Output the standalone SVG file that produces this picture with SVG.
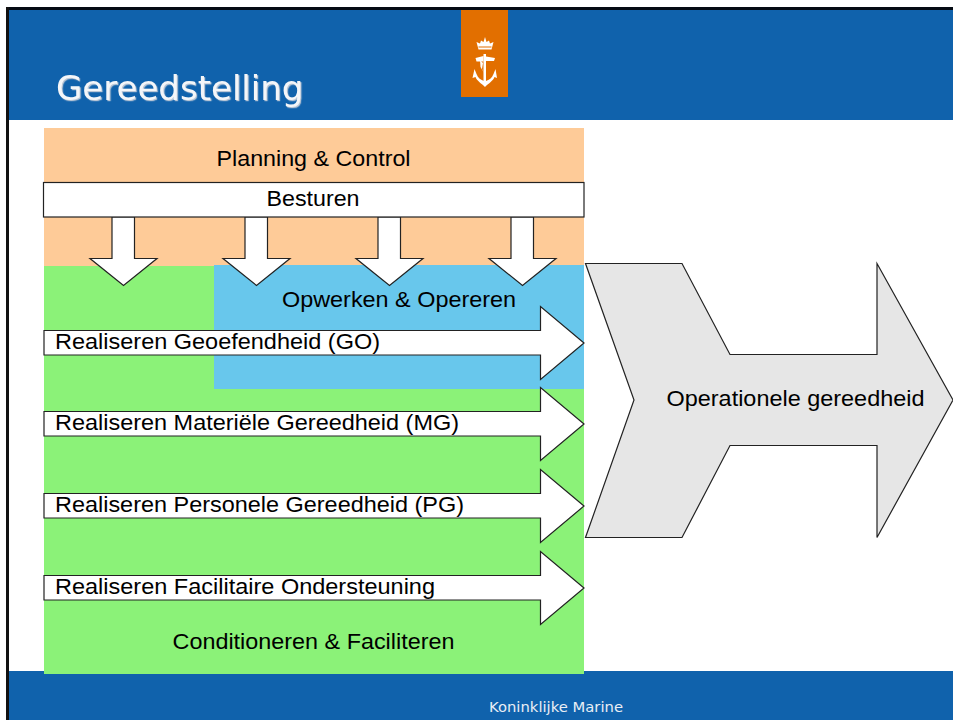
<svg xmlns="http://www.w3.org/2000/svg" width="953" height="720" viewBox="0 0 953 720">
<style>
.s{stroke:#222;stroke-width:1.200;fill:#fff}
.t{font-family:"Liberation Sans",Arial,sans-serif;font-size:21.5px;fill:#000}
.d{font-family:"DejaVu Sans",Verdana,sans-serif}
</style>
<defs>
<path id="ra" d="M44 11.500H540.500V-12.500L584 24L540.500 60.500V36H44Z"/>
<path id="da" d="M112 217H134.500V258.500H157L123.500 285.500L90 258.500H112Z"/>
<filter id="sh" x="-5%" y="-20%" width="110%" height="140%"><feDropShadow dx="1.200" dy="1.200" stdDeviation=".4" flood-color="#b9c6d6"/></filter>
</defs>
<rect width="953" height="720" fill="#fff"/>
<g id="header">
<rect x="6" y="7" width="947" height="3" fill="#050b14"/>
<rect x="6" y="7" width="3" height="713" fill="#111"/>
<rect x="9" y="10" width="944" height="110" fill="#1062ac"/>
<rect x="461" y="10" width="47" height="87" fill="#e26f00"/>
<g id="emblem" fill="#fff" stroke="none">
<path d="M478.500 49.500H491.500L493.500 42L490 43.500L489 40.500L486.500 42L485 37L483.500 42L481 40.500L480 43.500L476.500 42Z"/>
<rect x="478.500" y="46.500" width="13" height="1" fill="#e26f00"/>
<rect x="483.500" y="54" width="2.500" height="28"/>
<path d="M475.500 58L483.500 56V61.500L476.500 61.500ZM486 56.500L495 58L494 61L486 61Z"/>
<path d="M480 60L483 63L482 69L484 73L480.500 67Z"/>
<path d="M472.500 78L474.500 69L476.500 74C478 78 481 80 484 81H486C489 80 492 78 493.500 74L495.500 69L497 78L494.500 77C493 81 489 83 485 87C481 83 477 81 475.500 77Z"/>
</g>
<text class="d" x="56" y="100" font-size="34" fill="#f4f6f9" filter="url(#sh)">Gereedstelling</text>
</g>
<g id="footer">
<rect x="9" y="671" width="944" height="49" fill="#1062ac"/>
<text class="d" x="489" y="712" font-size="14" fill="#e9eef5" textLength="134" lengthAdjust="spacingAndGlyphs">Koninklijke Marine</text>
</g>
<g id="planning-control">
<rect x="44" y="128" width="540" height="138" fill="#fecb98"/>
<text class="t" x="216.500" y="165.500" textLength="194" lengthAdjust="spacingAndGlyphs">Planning &amp; Control</text>
</g>
<g id="conditioneren-faciliteren">
<rect x="44" y="266" width="540" height="408" fill="#8bf278"/>
<text class="t" x="172.500" y="649" textLength="282" lengthAdjust="spacingAndGlyphs">Conditioneren &amp; Faciliteren</text>
</g>
<g id="opwerken-opereren">
<rect x="214" y="265" width="370" height="124" fill="#68c7ec"/>
<text class="t" x="282" y="307" textLength="234" lengthAdjust="spacingAndGlyphs">Opwerken &amp; Opereren</text>
</g>
<g id="connectors">
<use href="#da" class="s"/>
<use href="#da" class="s" x="133"/>
<use href="#da" class="s" x="266"/>
<use href="#da" class="s" x="399"/>
</g>
<g id="besturen">
<rect x="43.500" y="182.500" width="540.500" height="34.500" class="s"/>
<text class="t" x="266.500" y="205.500" textLength="93" lengthAdjust="spacingAndGlyphs">Besturen</text>
</g>
<g id="realiseren-go">
<use href="#ra" class="s" y="319"/>
<text class="t" x="55" y="348.500" textLength="325" lengthAdjust="spacingAndGlyphs">Realiseren Geoefendheid (GO)</text>
</g>
<g id="realiseren-mg">
<use href="#ra" class="s" y="400"/>
<text class="t" x="55" y="429.500" textLength="404" lengthAdjust="spacingAndGlyphs">Realiseren Materiële Gereedheid (MG)</text>
</g>
<g id="realiseren-pg">
<use href="#ra" class="s" y="482"/>
<text class="t" x="55" y="511.500" textLength="409" lengthAdjust="spacingAndGlyphs">Realiseren Personele Gereedheid (PG)</text>
</g>
<g id="realiseren-fo">
<use href="#ra" class="s" y="564"/>
<text class="t" x="55" y="593.500" textLength="380" lengthAdjust="spacingAndGlyphs">Realiseren Facilitaire Ondersteuning</text>
</g>
<g id="operationele-gereedheid">
<path d="M585.500 263.500H682L730 354.500H877V263.500L953 400L877 537.500V445.500H730L682 537.500H585.500L634 400Z" fill="#e6e6e6" stroke="#222" stroke-width="1.200"/>
<text class="t" x="666.500" y="406" textLength="258" lengthAdjust="spacingAndGlyphs">Operationele gereedheid</text>
</g>
</svg>
